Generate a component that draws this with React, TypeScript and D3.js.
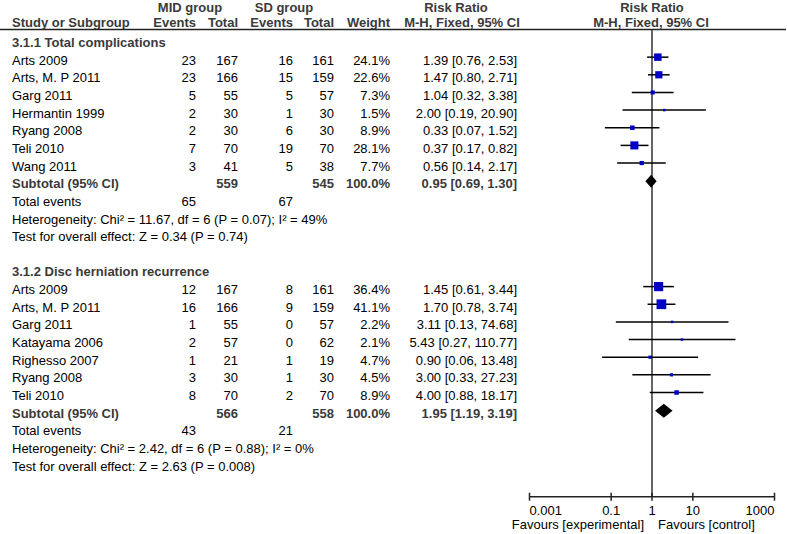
import React from "react";
import * as d3 from "d3";

// ---- Data ----
const g1Studies = ["Arts 2009", "Arts, M. P 2011", "Garg 2011", "Hermantin 1999", "Ryang 2008", "Teli 2010", "Wang 2011"];
const g1MidEvents = [23, 23, 5, 2, 2, 7, 3];
const g1MidTotal = [167, 166, 55, 30, 30, 70, 41];
const g1SdEvents = [16, 15, 5, 1, 6, 19, 5];
const g1SdTotal = [161, 159, 57, 30, 30, 70, 38];
const g1Weight = [24.1, 22.6, 7.3, 1.5, 8.9, 28.1, 7.7];
const g1RR = [1.39, 1.47, 1.04, 2.0, 0.33, 0.37, 0.56];
const g1Lo = [0.76, 0.8, 0.32, 0.19, 0.07, 0.17, 0.14];
const g1Hi = [2.53, 2.71, 3.38, 20.9, 1.52, 0.82, 2.17];
const g1Subtotal = { mid: 559, sd: 545, rr: 0.95, lo: 0.69, hi: 1.3, midEv: 65, sdEv: 67 };
const g1Het = "Heterogeneity: Chi² = 11.67, df = 6 (P = 0.07); I² = 49%";
const g1Test = "Test for overall effect: Z = 0.34 (P = 0.74)";

const g2Studies = ["Arts 2009", "Arts, M. P 2011", "Garg 2011", "Katayama 2006", "Righesso 2007", "Ryang 2008", "Teli 2010"];
const g2MidEvents = [12, 16, 1, 2, 1, 3, 8];
const g2MidTotal = [167, 166, 55, 57, 21, 30, 70];
const g2SdEvents = [8, 9, 0, 0, 1, 1, 2];
const g2SdTotal = [161, 159, 57, 62, 19, 30, 70];
const g2Weight = [36.4, 41.1, 2.2, 2.1, 4.7, 4.5, 8.9];
const g2RR = [1.45, 1.7, 3.11, 5.43, 0.9, 3.0, 4.0];
const g2Lo = [0.61, 0.78, 0.13, 0.27, 0.06, 0.33, 0.88];
const g2Hi = [3.44, 3.74, 74.68, 110.77, 13.48, 27.23, 18.17];
const g2Subtotal = { mid: 566, sd: 558, rr: 1.95, lo: 1.19, hi: 3.19, midEv: 43, sdEv: 21 };
const g2Het = "Heterogeneity: Chi² = 2.42, df = 6 (P = 0.88); I² = 0%";
const g2Test = "Test for overall effect: Z = 2.63 (P = 0.008)";

const axisTicks = [0.001, 0.1, 1, 10, 1000];
const axisTickLabels = ["0.001", "0.1", "1", "10", "1000"];

const groups = [
  {
    title: "3.1.1 Total complications",
    studies: g1Studies, midEv: g1MidEvents, midTot: g1MidTotal, sdEv: g1SdEvents, sdTot: g1SdTotal,
    w: g1Weight, rr: g1RR, lo: g1Lo, hi: g1Hi, sub: g1Subtotal, het: g1Het, test: g1Test,
  },
  {
    title: "3.1.2 Disc herniation recurrence",
    studies: g2Studies, midEv: g2MidEvents, midTot: g2MidTotal, sdEv: g2SdEvents, sdTot: g2SdTotal,
    w: g2Weight, rr: g2RR, lo: g2Lo, hi: g2Hi, sub: g2Subtotal, het: g2Het, test: g2Test,
  },
];

const W = 787;
const H = 534;
const FONT = "'Liberation Sans', Arial, Helvetica, sans-serif";
const FS = 13;
const BOLD_GRAY = "#3a3a3a";
const BLUE = "#0000c4";

const x = d3.scaleLog().domain([0.001, 1000]).range([529.5, 774.5]);
const rowBase = (i: number) => 47 + i * 17.65;

const colStudy = 12;
const colMidEv = 196;
const colMidTot = 238;
const colSdEv = 293;
const colSdTot = 334;
const colWeight = 390;
const colCI = 517;

const fmt2 = (v: number) => v.toFixed(2);
const ciText = (r: number, l: number, h: number) => `${fmt2(r)} [${fmt2(l)}, ${fmt2(h)}]`;

export default function App() {
  const els: React.ReactNode[] = [];
  let idx = 0;
  groups.forEach((g, gi) => {
    const hb = rowBase(idx);
    els.push(
      <text key={`t${gi}`} x={colStudy} y={hb} fontWeight="bold" fill={BOLD_GRAY}>{g.title}</text>
    );
    idx++;
    g.studies.forEach((s, i) => {
      const b = rowBase(idx);
      const cy = b - 7.5;
      const side = Math.max(2.5, 1.52 * Math.sqrt(g.w[i]));
      els.push(
        <g key={`r${gi}-${i}`}>
          <text x={colStudy} y={b}>{s}</text>
          <text x={colMidEv} y={b} textAnchor="end">{g.midEv[i]}</text>
          <text x={colMidTot} y={b} textAnchor="end">{g.midTot[i]}</text>
          <text x={colSdEv} y={b} textAnchor="end">{g.sdEv[i]}</text>
          <text x={colSdTot} y={b} textAnchor="end">{g.sdTot[i]}</text>
          <text x={colWeight} y={b} textAnchor="end">{g.w[i].toFixed(1)}%</text>
          <text x={colCI} y={b} textAnchor="end">{ciText(g.rr[i], g.lo[i], g.hi[i])}</text>
          <line x1={x(g.lo[i])} x2={x(g.hi[i])} y1={cy} y2={cy} stroke="#000" strokeWidth={1.5} />
          <rect x={x(g.rr[i]) - side / 2} y={cy - side / 2} width={side} height={side} fill={BLUE} />
        </g>
      );
      idx++;
    });
    // subtotal
    const sb = rowBase(idx);
    const scy = sb - 7;
    const dh = gi === 0 ? 6.5 : 7;
    const diamond = `M${x(g.sub.lo)},${scy} L${x(g.sub.rr)},${scy - dh} L${x(g.sub.hi)},${scy} L${x(g.sub.rr)},${scy + dh} Z`;
    els.push(
      <g key={`s${gi}`} fontWeight="bold" fill={BOLD_GRAY}>
        <text x={colStudy} y={sb}>Subtotal (95% CI)</text>
        <text x={colMidTot} y={sb} textAnchor="end">{g.sub.mid}</text>
        <text x={colSdTot} y={sb} textAnchor="end">{g.sub.sd}</text>
        <text x={colWeight} y={sb} textAnchor="end">100.0%</text>
        <text x={colCI} y={sb} textAnchor="end">{ciText(g.sub.rr, g.sub.lo, g.sub.hi)}</text>
        <path d={diamond} fill="#000" />
      </g>
    );
    idx++;
    const eb = rowBase(idx);
    els.push(
      <g key={`e${gi}`}>
        <text x={colStudy} y={eb}>Total events</text>
        <text x={colMidEv} y={eb} textAnchor="end">{g.sub.midEv}</text>
        <text x={colSdEv} y={eb} textAnchor="end">{g.sub.sdEv}</text>
      </g>
    );
    idx++;
    els.push(<text key={`h${gi}`} x={colStudy} y={rowBase(idx)}>{g.het}</text>);
    idx++;
    els.push(<text key={`z${gi}`} x={colStudy} y={rowBase(idx)}>{g.test}</text>);
    idx++;
    idx++; // blank row
  });

  const axisY = 496.7;
  const x1 = x(1);
  const tickAnchor = (i: number) => (i === 0 ? "start" : i === axisTicks.length - 1 ? "end" : "middle");

  return (
    <div style={{ position: "absolute", left: 0, top: 0, width: W, height: H, background: "#fff" }}>
      <svg width={W} height={H} fontFamily={FONT} fontSize={FS} fill="#000">
        {/* header */}
        <g fontWeight="bold" fill={BOLD_GRAY}>
          <text x={190} y={11.5} textAnchor="middle">MID group</text>
          <text x={284} y={11.5} textAnchor="middle">SD group</text>
          <text x={456} y={11.5} textAnchor="middle">Risk Ratio</text>
          <text x={652} y={11.5} textAnchor="middle">Risk Ratio</text>
          <text x={colStudy} y={26.5}>Study or Subgroup</text>
          <text x={colMidEv} y={26.5} textAnchor="end">Events</text>
          <text x={colMidTot} y={26.5} textAnchor="end">Total</text>
          <text x={colSdEv} y={26.5} textAnchor="end">Events</text>
          <text x={colSdTot} y={26.5} textAnchor="end">Total</text>
          <text x={colWeight} y={26.5} textAnchor="end">Weight</text>
          <text x={462} y={26.5} textAnchor="middle">M-H, Fixed, 95% CI</text>
          <text x={651} y={26.5} textAnchor="middle">M-H, Fixed, 95% CI</text>
        </g>
        <line x1={0} x2={786} y1={29.5} y2={29.5} stroke="#222" strokeWidth={1.5} />
        {/* null line */}
        <line x1={x1} x2={x1} y1={29.5} y2={axisY} stroke="#333" strokeWidth={1.5} />
        {els}
        {/* axis */}
        <line x1={x(0.001)} x2={x(1000)} y1={axisY} y2={axisY} stroke="#222" strokeWidth={1.5} />
        {axisTicks.map((t, i) => (
          <g key={`ax${i}`}>
            <line x1={x(t)} x2={x(t)} y1={axisY - 4} y2={axisY + 4} stroke="#222" strokeWidth={1.5} />
            <text x={x(t)} y={515} textAnchor={tickAnchor(i)}>{axisTickLabels[i]}</text>
          </g>
        ))}
        <text x={644} y={529} textAnchor="end">Favours [experimental]</text>
        <text x={658} y={529}>Favours [control]</text>
      </svg>
    </div>
  );
}
